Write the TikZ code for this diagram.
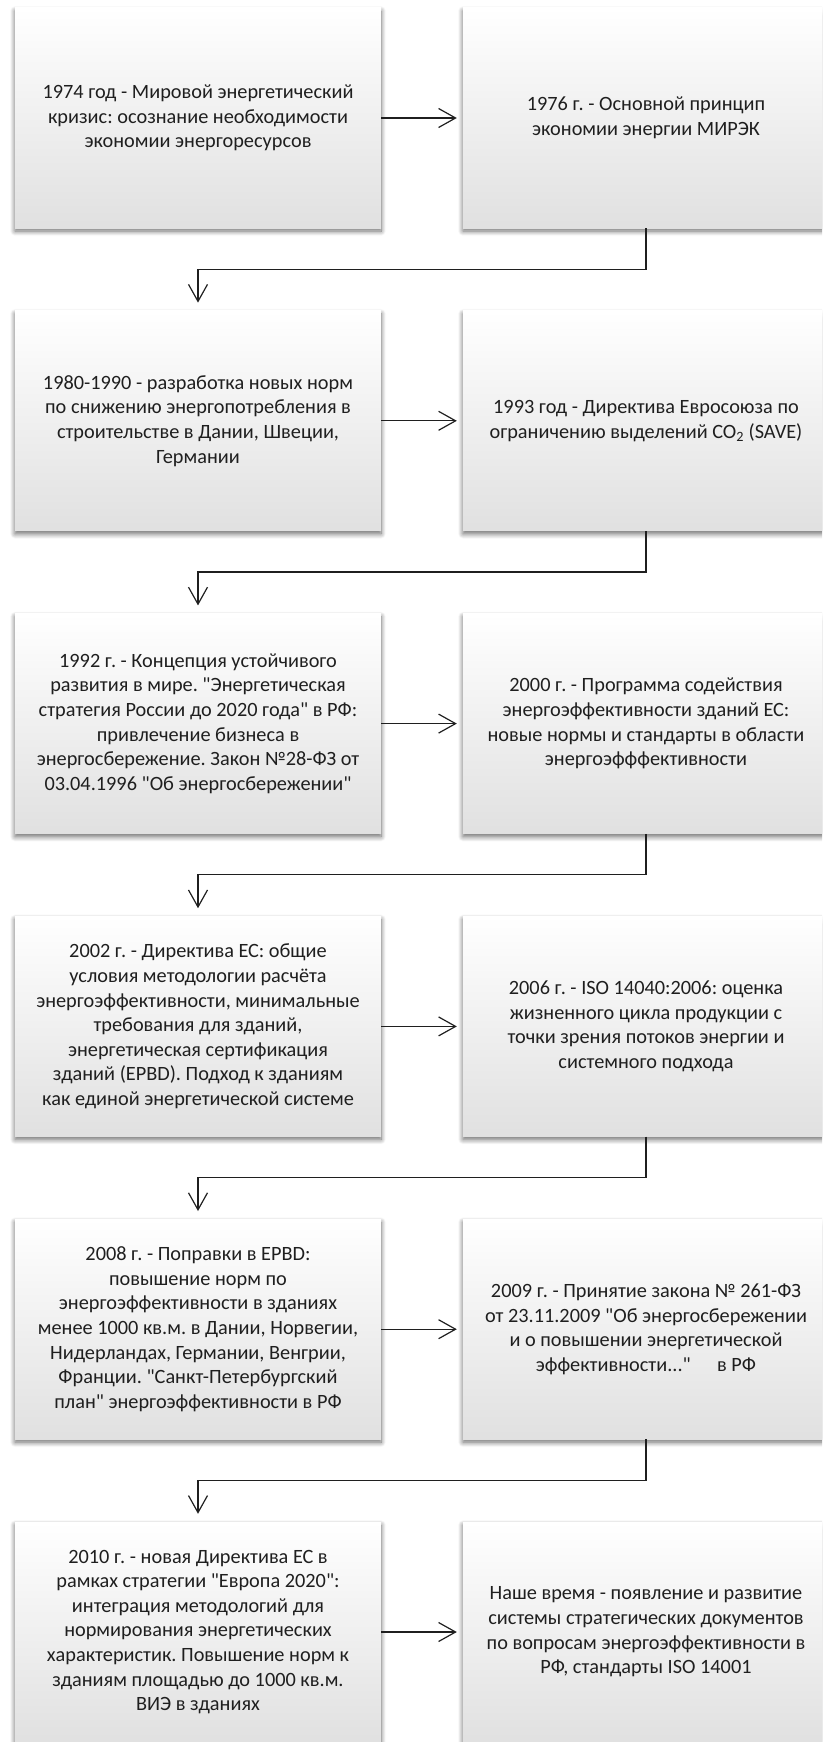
\documentclass[tikz,border=0pt]{standalone}
\usepackage{fontspec}
\setmainfont{Carlito}[Ligatures=TeXOff]
\usetikzlibrary{arrows.meta,shadows.blur}
\frenchspacing
\begin{document}
\begin{tikzpicture}[x=1pt,y=-1pt,
  box/.style={rectangle, minimum width=366pt, minimum height=220pt, inner sep=0pt,
    align=center, font=\fontsize{20.3}{24.6}\selectfont\frenchspacing, text=black!88,
    top color=white, middle color=white, bottom color=black!12,
    blur shadow={shadow xshift=0pt, shadow yshift=-3pt, shadow blur radius=5pt,
      shadow blur steps=10, shadow opacity=60}},
  link/.style={line width=1.2pt, draw=black!88, line join=miter,
    -{Straight Barb[length=17pt,width=19pt,line width=1.2pt]}}]
\useasboundingbox (0,0) rectangle (822,1742);
\clip (0,0) rectangle (822,1742);

\node[box] (b1) at (198,118) {1974 год - Мировой энергетический\\кризис: осознание необходимости\\экономии энергоресурсов};
\node[box] (b2) at (646,118) {1976 г. - Основной принцип\\экономии энергии МИРЭК};

\node[box] (b3) at (198,420.8) {1980-1990 - разработка новых норм\\по снижению энергопотребления в\\строительстве в Дании, Швеции,\\Германии};
\node[box] (b4) at (646,420.8) {1993 год - Директива Евросоюза по\\ограничению выделений CO\textsubscript{2} (SAVE)};

\node[box] (b5) at (198,723.6) {1992 г. - Концепция устойчивого\\развития в мире. "Энергетическая\\стратегия России до 2020 года" в РФ:\\привлечение бизнеса в\\энергосбережение. Закон №28-ФЗ от\\03.04.1996 "Об энергосбережении"};
\node[box] (b6) at (646,723.6) {2000 г. - Программа содействия\\энергоэффективности зданий ЕС:\\новые нормы и стандарты в области\\энергоэфффективности};

\node[box] (b7) at (198,1026.4) {2002 г. - Директива ЕС: общие\\условия методологии расчёта\\энергоэффективности, минимальные\\требования для зданий,\\энергетическая сертификация\\зданий (EPBD). Подход к зданиям\\как единой энергетической системе};
\node[box] (b8) at (646,1026.4) {2006 г. - ISO 14040:2006: оценка\\жизненного цикла продукции с\\точки зрения потоков энергии и\\системного подхода};

\node[box] (b9) at (198,1329.2) {2008 г. - Поправки в EPBD:\\повышение норм по\\энергоэффективности в зданиях\\менее 1000 кв.м. в Дании, Норвегии,\\Нидерландах, Германии, Венгрии,\\Франции. "Санкт-Петербургский\\план" энергоэффективности в РФ};
\node[box] (b10) at (646,1329.2) {2009 г. - Принятие закона № 261-ФЗ\\от 23.11.2009 "Об энергосбережении\\и о повышении энергетической\\эффективности..."\hspace{1.3em}в РФ};

\node[box] (b11) at (198,1632) {2010 г. - новая Директива ЕС в\\рамках стратегии "Европа 2020":\\интеграция методологий для\\нормирования энергетических\\характеристик. Повышение норм к\\зданиям площадью до 1000 кв.м.\\ВИЭ в зданиях};
\node[box] (b12) at (646,1632) {Наше время - появление и развитие\\системы стратегических документов\\по вопросам энергоэффективности в\\РФ, стандарты ISO 14001};

\foreach \a/\b in {b1/b2,b3/b4,b5/b6,b7/b8,b9/b10,b11/b12}
  \draw[link] (\a.east) -- ([xshift=-6pt]\b.west);
\foreach \a/\b in {b2/b3,b4/b5,b6/b7,b8/b9,b10/b11}
  \draw[link] (\a.south) -- ++(0,41) -| ([yshift=8pt]\b.north);
\end{tikzpicture}
\end{document}
